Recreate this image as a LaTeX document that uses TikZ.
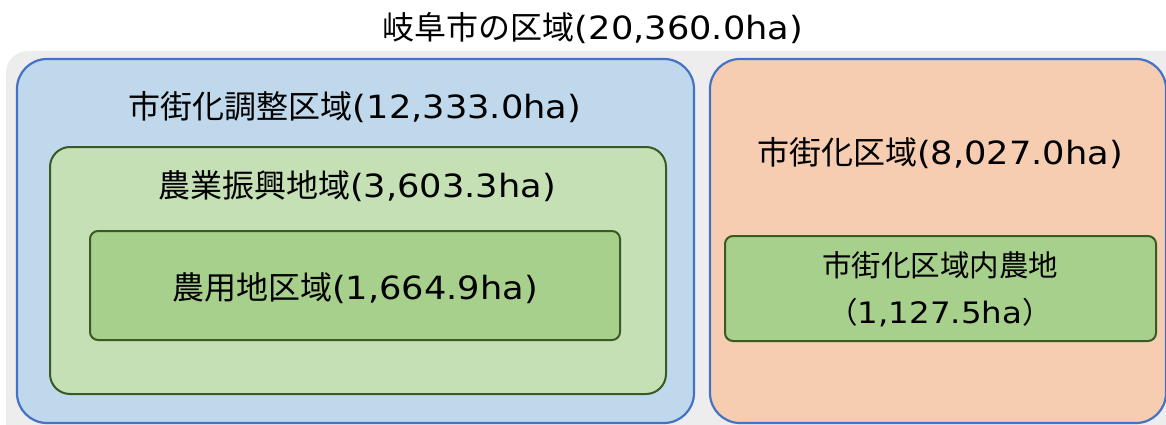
\documentclass[tikz,border=0pt]{standalone}
\usepackage{fontspec}
\setmainfont{DejaVu Sans}[FakeStretch=1.1]
\newfontfamily\cjk{Noto Sans CJK JP}
\newcommand{\jp}[1]{{\cjk #1}}
\definecolor{bgray}{HTML}{EDEDED}
\definecolor{bblue}{HTML}{4472C4}
\definecolor{fblue}{HTML}{C0D8EC}
\definecolor{forange}{HTML}{F6CDB1}
\definecolor{dgreen}{HTML}{3A5A24}
\definecolor{flgreen}{HTML}{C5E0B5}
\definecolor{fgreen}{HTML}{A8D08D}
\begin{document}
\begin{tikzpicture}[x=1pt,y=-1pt,
  bluebox/.style={draw=bblue,fill=fblue,line width=2.2pt,rounded corners=30pt},
  orangebox/.style={draw=bblue,fill=forange,line width=2.2pt,rounded corners=30pt},
  lgbox/.style={draw=dgreen,fill=flgreen,line width=2pt,rounded corners=20pt},
  gbox/.style={draw=dgreen,fill=fgreen,line width=2pt,rounded corners=8pt},
  lbl/.style={font=\fontsize{32}{38}\selectfont,inner sep=0pt,align=center},
  slbl/.style={font=\fontsize{29.5}{36}\selectfont,inner sep=0pt,align=center}]
\useasboundingbox (0,0) rectangle (1166,425);
\fill[white] (0,0) rectangle (1166,425);
\begin{scope}
\clip (0,0) rectangle (1166,425);
\fill[bgray,rounded corners=22pt] (6,51) rectangle (1190,450);
\draw[bluebox] (17,59) rectangle (694,423);
\draw[orangebox] (710,59) rectangle (1166,423);
\end{scope}
\draw[lgbox] (50,147) rectangle (666,394);
\draw[gbox] (90,231) rectangle (620,340);
\draw[gbox] (725,236) rectangle (1156,341);
\node[lbl] (t0) at (593,28) {\jp{岐阜市の区域}(20,360.0ha)};
\node[lbl] (t1) at (355,107) {\jp{市街化調整区域}(12,333.0ha)};
\node[lbl] (t2) at (357,186) {\jp{農業振興地域}(3,603.3ha)};
\node[lbl] (t3) at (355,288) {\jp{農用地区域}(1,664.9ha)};
\node[lbl] (t4) at (940,153) {\jp{市街化区域}(8,027.0ha)};
\node[slbl] (t5) at (940,265) {\jp{市街化区域内農地}};
\node[slbl] (t6) at (940,313) {\jp{（}1,127.5ha\jp{）}};
\end{tikzpicture}
\end{document}
